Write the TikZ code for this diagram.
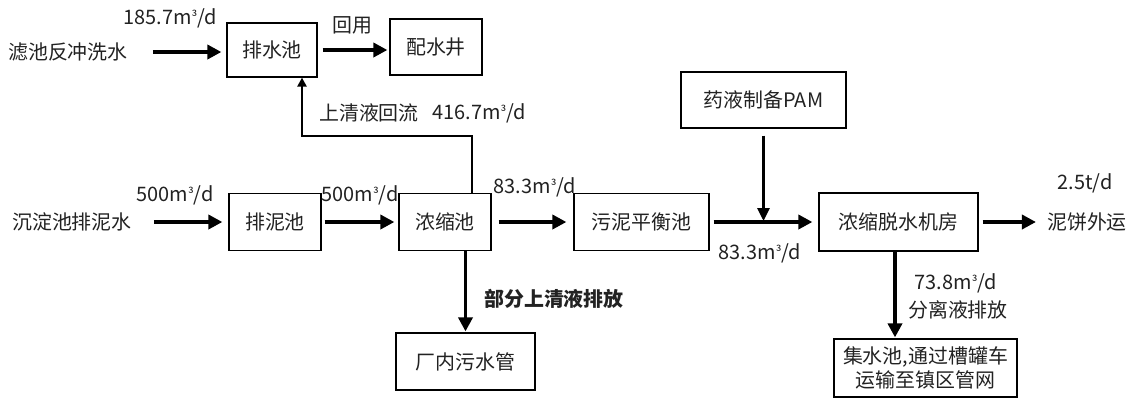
\documentclass[tikz,border=0pt]{standalone}
\usepackage{fontspec}
\setmainfont{Noto Sans CJK SC}
\usetikzlibrary{arrows.meta,calc}
\definecolor{txt}{HTML}{222222}
\newcommand{\cubsup}{\raisebox{1.5bp}{\fontsize{14}{14}\selectfont ³}}
\begin{document}
\begin{tikzpicture}[x=1bp,y=-1bp,
  font=\fontsize{20}{24}\selectfont,
  box/.style={draw=black, line width=1.2bp, inner sep=0pt, text=txt, align=center},
  lbl/.style={inner sep=0pt, text=txt},
  bigarr/.style={line width=3.6bp, -{Triangle[length=14bp,width=14bp]}},
  midarr/.style={line width=3bp, -{Triangle[length=13bp,width=12bp]}},
  thinarr/.style={line width=2.6bp, -{Triangle[length=9bp,width=9bp]}}]
\useasboundingbox[fill=white] (0,0) rectangle (1133,419);

% boxes
\node[box, minimum width=90bp, minimum height=54bp] (b1) at (272,50) {排水池};
\node[box, minimum width=92bp, minimum height=56bp] (pei) at (436,47) {配水井};
\node[box, minimum width=92bp, minimum height=57bp] (pn) at (275,222) {排泥池};
\node[box, minimum width=92bp, minimum height=57bp] (nong) at (445,222) {浓缩池};
\node[box, minimum width=135bp, minimum height=57bp] (wuni) at (641.5,222) {污泥平衡池};
\node[box, minimum width=165bp, minimum height=56bp] (pam) at (763.5,100) {药液制备PAM};
\node[box, minimum width=159bp, minimum height=58bp] (ts) at (898.5,222) {浓缩脱水机房};
\node[box, minimum width=139bp, minimum height=57bp] (cn) at (465.5,361.5) {厂内污水管};
\node[box, minimum width=183bp, minimum height=58bp] (js) at (925.5,368) {集水池,通过槽罐车\\运输至镇区管网};

% free texts
\node[lbl] (t1) at (68,52) {滤池反冲洗水};
\node[lbl] (q1) at (170,18) {185.7m\cubsup/d};
\node[lbl] (hy) at (352,25) {回用};
\node[lbl] (sq) at (369,113) {上清液回流};
\node[lbl] (q2) at (479,113) {416.7m\cubsup/d};
\node[lbl] (t2) at (72,222) {沉淀池排泥水};
\node[lbl] (q3) at (175,195) {500m\cubsup/d};
\node[lbl] (q4) at (360,195) {500m\cubsup/d};
\node[lbl] (q5) at (535,187) {83.3m\cubsup/d};
\node[lbl] (q6) at (760,253) {83.3m\cubsup/d};
\node[lbl] (q7) at (1085,183) {2.5t/d};
\node[lbl] (t3) at (1087,222) {泥饼外运};
\node[lbl, font=\fontsize{20}{24}\selectfont\bfseries] (pf) at (554,299) {部分上清液排放};
\node[lbl] (q8) at (956,283) {73.8m\cubsup/d};
\node[lbl] (fl) at (958,310) {分离液排放};

% connectors
\draw[bigarr, shorten <=25bp, shorten >=5bp] (t1.east) -- (t1.east -| b1.west);
\draw[bigarr, shorten <=5bp, shorten >=2bp] (b1.east) -- (b1.east -| pei.west);
\coordinate (rc) at (302,136);
\draw[thinarr] ([xshift=27bp]nong.north) |- (rc) -- (rc |- b1.south);
\draw[bigarr, shorten <=22bp, shorten >=6bp] (t2.east) -- (pn.west);
\draw[bigarr, shorten <=3bp, shorten >=4bp] (pn.east) -- (nong.west);
\draw[bigarr, shorten <=7bp, shorten >=7bp] (nong.east) -- (wuni.west);
\draw[bigarr, shorten <=4bp, shorten >=6bp] (wuni.east) -- (ts.west);
\coordinate (j) at (pam.south |- wuni.east);
\draw[midarr, shorten <=7bp, shorten >=1bp] (pam.south) -- (j);
\draw[bigarr, shorten <=4bp, shorten >=11bp] (ts.east) -- (t3.west);
\draw[bigarr, shorten >=1bp] (cn.north |- nong.south) -- (cn.north);
\draw[bigarr, shorten >=1bp] ([xshift=-3.5bp]ts.south) -- ([xshift=-3.5bp]ts.south |- js.north);
\end{tikzpicture}
\end{document}
